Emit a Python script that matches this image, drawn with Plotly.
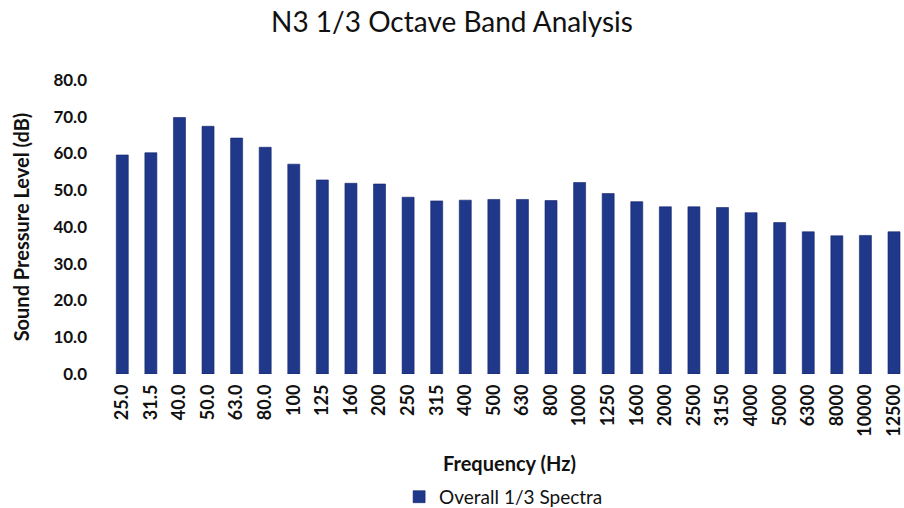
import plotly.graph_objects as go

# 1/3 octave band centre frequencies (Hz) as printed on the axis
bands = ["25.0", "31.5", "40.0", "50.0", "63.0", "80.0", "100", "125", "160", "200",
         "250", "315", "400", "500", "630", "800", "1000", "1250", "1600", "2000",
         "2500", "3150", "4000", "5000", "6300", "8000", "10000", "12500"]

# Overall sound pressure level per band (dB)
spl = [59.6, 60.2, 69.8, 67.4, 64.2, 61.7, 57.1, 52.8, 51.9, 51.7,
       48.1, 47.1, 47.3, 47.5, 47.5, 47.2, 52.1, 49.1, 46.9, 45.5,
       45.5, 45.3, 43.9, 41.2, 38.7, 37.6, 37.7, 38.7]

y_ticks = [0, 10, 20, 30, 40, 50, 60, 70, 80]

FONT = "Lato"
INK = "#111111"
BAR = "#1f3889"

fig = go.Figure(
    go.Bar(
        x=bands,
        y=spl,
        name="Overall 1/3 Spectra",
        marker=dict(color=BAR, line=dict(color="#14246b", width=0.6)),
    )
)

fig.update_layout(
    width=904,
    height=508,
    margin=dict(l=108, r=0, t=80, b=134, autoexpand=False),
    paper_bgcolor="white",
    plot_bgcolor="white",
    bargap=0.58,
    title=dict(
        text="N3 1/3 Octave Band Analysis",
        x=0.5, xref="container", xanchor="center",
        y=0.957, yref="container", yanchor="middle",
        font=dict(family=FONT, size=28, color=INK),
    ),
    xaxis=dict(
        type="category",
        range=[-0.5, 27.35],
        tickangle=-90,
        tickfont=dict(family=FONT, size=18, color=INK, weight="bold"),
        ticklabelstandoff=6,
        showgrid=False,
        showline=False,
        ticks="",
        automargin=False,
    ),
    yaxis=dict(
        range=[0, 80],
        tickvals=y_ticks,
        ticktext=[f"{v:.1f}" for v in y_ticks],
        tickfont=dict(family=FONT, size=17, color=INK, weight="bold"),
        ticklabelstandoff=20,
        showgrid=False,
        zeroline=False,
        showline=False,
        automargin=False,
        title=dict(text="Sound Pressure Level (dB)", standoff=18,
                   font=dict(family=FONT, size=20, color=INK, weight="bold")),
    ),
    annotations=[
        dict(
            text="Frequency (Hz)",
            xref="paper", yref="paper",
            x=0.505, y=-0.303,
            xanchor="center", yanchor="middle",
            showarrow=False,
            font=dict(family=FONT, size=20, color=INK, weight="bold"),
        )
    ],
    showlegend=True,
    legend=dict(
        orientation="h",
        x=0.497, xref="paper", xanchor="center",
        y=0.022, yref="container", yanchor="middle",
        font=dict(family=FONT, size=19, color=INK),
        itemwidth=30,
    ),
)

fig.write_html("out.html")
